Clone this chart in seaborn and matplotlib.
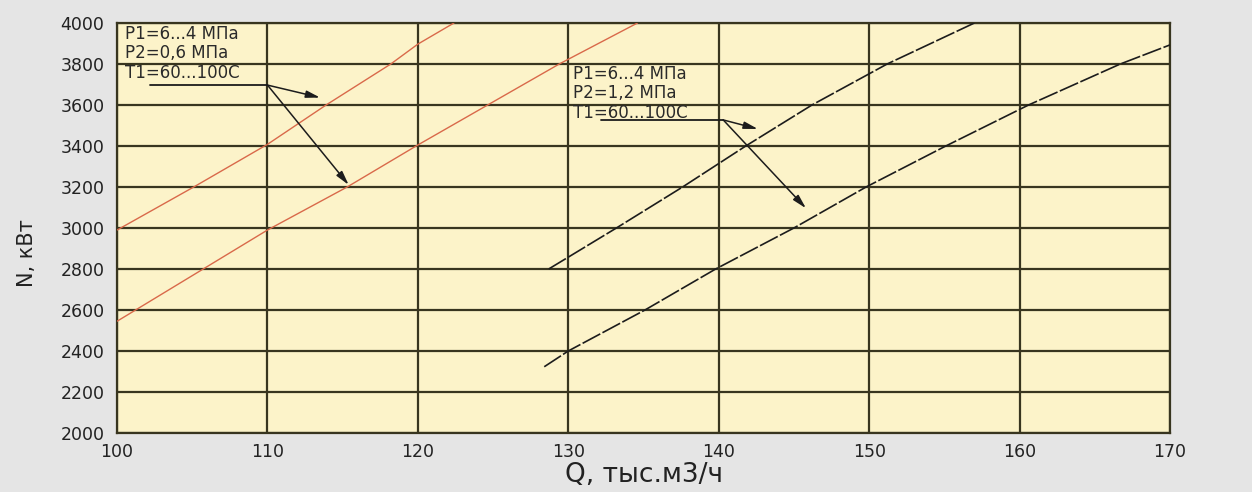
import numpy as np
import pandas as pd
import matplotlib
matplotlib.use("Agg")
import matplotlib.pyplot as plt
import seaborn as sns

# ---- data ----
q_red_upper = [100.0, 105.1, 110.0, 113.9, 118.2, 120.0, 122.4]
n_red_upper = [2990, 3200, 3408, 3600, 3800, 3897, 4000]

q_red_lower = [100.0, 110.0, 115.3, 120.0, 129.4, 134.6]
n_red_lower = [2545, 2990, 3200, 3405, 3800, 4000]

q_blk_upper = [128.7, 133.2, 137.6, 141.8, 146.2, 151.2, 157.0]
n_blk_upper = [2800, 3000, 3200, 3400, 3600, 3800, 4000]

q_blk_lower = [128.4, 130.0, 135.1, 139.8, 145.0, 149.8, 155.1, 160.6, 166.7, 170.0]
n_blk_lower = [2323, 2400, 2600, 2800, 3000, 3200, 3400, 3600, 3800, 3893]

x_ticks = [100, 110, 120, 130, 140, 150, 160, 170]
y_ticks = [2000, 2200, 2400, 2600, 2800, 3000, 3200, 3400, 3600, 3800, 4000]

label_1 = "P1=6...4 МПа\nP2=0,6 МПа\nT1=60...100C"
label_2 = "P1=6...4 МПа\nP2=1,2 МПа\nT1=60...100C"
x_label = "Q, тыс.м3/ч"
y_label = "N, кВт"

# ---- style ----
sns.set_theme(style="white")
plt.rcParams["font.family"] = ["DejaVu Sans"]

GRID = "#38351f"
BG = "#e5e5e5"
AX_BG = "#fcf3c9"
RED = "#d9694a"
BLK = "#1c1c1c"

fig = plt.figure(figsize=(12.52, 4.92), dpi=100, facecolor=BG)
ax = fig.add_axes([0.0935, 0.12, 0.841, 0.8333])
ax.set_facecolor(AX_BG)

def draw(q, n, color, lw, ls):
    df = pd.DataFrame({"Q": q, "N": n})
    sns.lineplot(data=df, x="Q", y="N", ax=ax, color=color, linewidth=lw,
                 sort=False, estimator=None, zorder=3)
    ax.lines[-1].set_linestyle(ls)

draw(q_red_upper, n_red_upper, RED, 1.0, "-")
draw(q_red_lower, n_red_lower, RED, 1.0, "-")
draw(q_blk_upper, n_blk_upper, BLK, 1.2, (0, (12, 1.5)))
draw(q_blk_lower, n_blk_lower, BLK, 1.2, (0, (12, 1.5)))

ax.set_xlim(100, 170)
ax.set_ylim(2000, 4000)
ax.set_xticks(x_ticks)
ax.set_yticks(y_ticks)
ax.grid(True, color=GRID, linewidth=1.6, zorder=1)
ax.set_axisbelow(True)
for s in ax.spines.values():
    s.set_color(GRID)
    s.set_linewidth(1.6)
    s.set_visible(True)

ax.tick_params(axis="y", direction="out", length=6, width=1.2, color=GRID,
               labelsize=12.5, pad=3, labelcolor="#222222")
ax.tick_params(axis="x", direction="out", length=4, width=1.2, color=GRID,
               labelsize=12.5, pad=3, labelcolor="#222222")

ax.set_xlabel(x_label, fontsize=19, color="#222222", labelpad=1)
ax.set_ylabel(y_label, fontsize=15, color="#222222")
ax.yaxis.set_label_coords(-0.076, 0.44)

# ---- annotations ----
txt_kw = dict(fontsize=12, color="#2a2a2a", va="top", ha="left",
              linespacing=1.1, zorder=5)
ax.text(100.5, 3990, label_1, **txt_kw)
ax.text(130.3, 3795, label_2, **txt_kw)

arrow_kw = dict(arrowstyle="-|>,head_length=0.7,head_width=0.18", color=BLK, lw=1.1,
                shrinkA=0, shrinkB=0)
# group 1
ax.plot([102.2, 110.0], [3697, 3697], color=BLK, lw=1.3, zorder=4)
ax.annotate("", xy=(113.5, 3636), xytext=(110.0, 3697), arrowprops=arrow_kw, zorder=4)
ax.annotate("", xy=(115.4, 3210), xytext=(110.0, 3697), arrowprops=arrow_kw, zorder=4)
# group 2
ax.plot([132.2, 140.3], [3527, 3527], color=BLK, lw=1.3, zorder=4)
ax.annotate("", xy=(142.6, 3483), xytext=(140.3, 3527), arrowprops=arrow_kw, zorder=4)
ax.annotate("", xy=(145.8, 3096), xytext=(140.3, 3527), arrowprops=arrow_kw, zorder=4)

fig.savefig("out.png", dpi=100, facecolor=BG)
